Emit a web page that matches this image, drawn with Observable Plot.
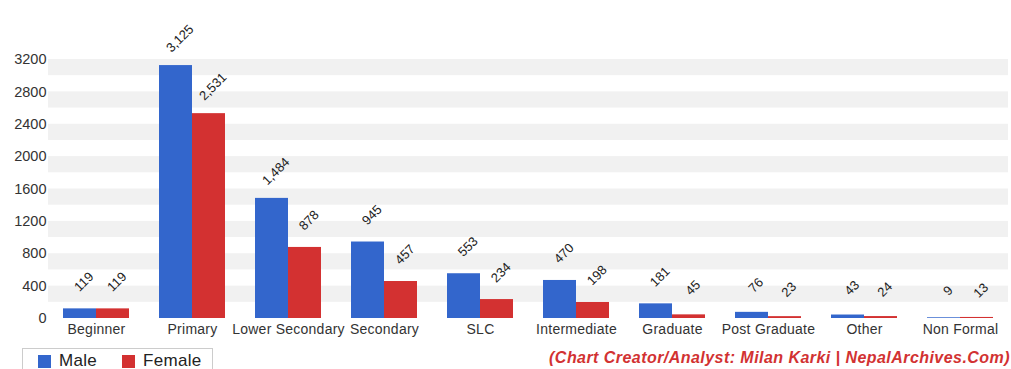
<!DOCTYPE html>
<html>
<head>
<meta charset="utf-8">
<script src="https://cdn.jsdelivr.net/npm/d3@7"></script>
<script src="https://cdn.jsdelivr.net/npm/@observablehq/plot@0.6"></script>
<style>
  html, body { margin: 0; padding: 0; background: #fff; }
  #wrap { position: relative; width: 1011px; height: 369px; overflow: hidden; font-family: "Liberation Sans", Arial, sans-serif; }
  #legend { position: absolute; left: 22px; top: 348px; width: 191px; height: 26px; border: 1px solid #ccc; box-sizing: border-box;
            display: flex; align-items: center; font-size: 17px; color: #222; letter-spacing: 0.3px; padding-left: 15px; }
  #legend .sw { display: inline-block; width: 13px; height: 13px; margin-right: 8px; }
  #legend .item { display: flex; align-items: center; margin-right: 25px; }
  #credit { position: absolute; right: 1px; top: 349px; font-size: 16px; letter-spacing: 0.45px; font-weight: bold; font-style: italic; color: #d23232; white-space: nowrap; }
</style>
</head>
<body>
<div id="wrap">
  <div id="chart"></div>
  <div id="legend"></div>
  <div id="credit">(Chart Creator/Analyst: Milan Karki | NepalArchives.Com)</div>
</div>
<script>
// Education level counts by sex
const categories = ["Beginner", "Primary", "Lower Secondary", "Secondary", "SLC",
  "Intermediate", "Graduate", "Post Graduate", "Other", "Non Formal"];
const male   = [119, 3125, 1484, 945, 553, 470, 181, 76, 43, 9];
const female = [119, 2531,  878, 457, 234, 198,  45, 23, 24, 13];
const sexes = ["Male", "Female"];
const colors = ["#3366cc", "#d33131"];
const yTicks = [0, 400, 800, 1200, 1600, 2000, 2400, 2800, 3200];

// Alternating background stripes (each tick down by half a step)
const stripes = yTicks.filter(t => t > 0).map(t => ({top: t, bottom: t - 200}));

const rows = categories.flatMap((c, i) => [
  {category: c, sex: "Male", value: male[i]},
  {category: c, sex: "Female", value: female[i]}
]);

const fmt = d3.format(",");

const chart = Plot.plot({
  width: 1011,
  height: 345,
  marginLeft: 45,
  marginRight: 0,
  marginTop: 59,
  marginBottom: 27,
  style: {fontFamily: "Liberation Sans, Arial, sans-serif", background: "#fff"},
  facet: {data: rows, x: "category"},
  fx: {domain: categories, paddingInner: 0, paddingOuter: 0, label: null, axis: "bottom",
       tickSize: 0, tickPadding: 6},
  x: {domain: sexes, paddingInner: 0, paddingOuter: 0.45, axis: null},
  y: {domain: [0, 3200], ticks: yTicks, tickFormat: d3.format("d"), tickSize: 0, tickPadding: 2, label: null},
  color: {domain: sexes, range: colors},
  marks: [
    Plot.rect(stripes, {y1: "bottom", y2: "top", fill: "#f1f1f1"}),
    Plot.barY(rows, {x: "sex", y: "value", fill: "sex"}),
    Plot.text(rows, {x: "sex", y: "value", text: d => fmt(d.value), rotate: -45,
      dx: 4, dy: -27, fontSize: 13, fill: "#222"})
  ]
});

const svg = d3.select(chart);
svg.selectAll("[aria-label='y-axis tick label']").attr("font-size", 14.5).attr("fill", "#333");
svg.selectAll("[aria-label='fx-axis tick label']").attr("font-size", 14).attr("letter-spacing", 0.25).attr("fill", "#333");
svg.selectAll("[aria-label='y-axis tick label'] text, [aria-label='fx-axis tick label'] text").attr("fill", "#333");

document.getElementById("chart").appendChild(chart);

const legend = d3.select("#legend");
sexes.forEach((s, i) => {
  const it = legend.append("span").attr("class", "item");
  it.append("span").attr("class", "sw").style("background", colors[i]);
  it.append("span").text(s);
});
</script>
</body>
</html>
